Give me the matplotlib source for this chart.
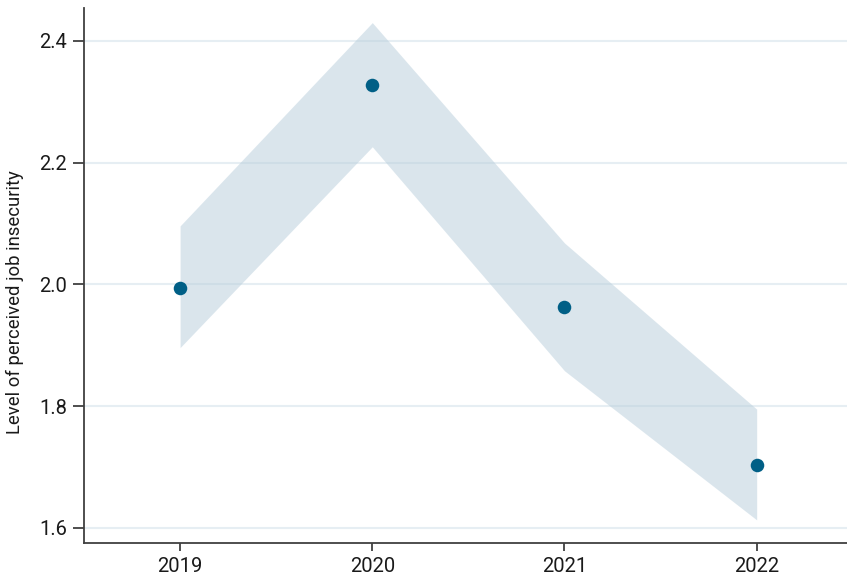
import matplotlib
matplotlib.use("Agg")
import matplotlib.pyplot as plt

years = [2019, 2020, 2021, 2022]
mean_insecurity = [1.994, 2.328, 1.963, 1.703]
ci_low = [1.896, 2.226, 1.858, 1.613]
ci_high = [2.096, 2.430, 2.068, 1.795]

plt.rcParams["font.family"] = ["Roboto", "DejaVu Sans"]

fig = plt.figure(figsize=(8.47, 5.77), dpi=100)
ax = fig.add_axes([84 / 847, 34 / 577, 1 - 84 / 847, (543 - 8) / 577])

# band is semi-transparent so the gridlines show through a little
ax.fill_between(years, ci_low, ci_high, color="#b7cddb", alpha=0.5, lw=0, zorder=2)
ax.scatter(years, mean_insecurity, s=95, color="#005f86", zorder=3, lw=0)

ax.set_xlim(2018.5, 2022.47)
ax.set_ylim(1.575, 2.454)
ax.set_xticks(years)
ax.set_yticks([1.6, 1.8, 2.0, 2.2, 2.4])
ax.set_yticklabels(["1.6", "1.8", "2.0", "2.2", "2.4"])
ax.grid(axis="y", color="#e6eef3", lw=1.5, zorder=1)
ax.set_axisbelow(True)

for s in ("top", "right"):
    ax.spines[s].set_visible(False)
for s in ("left", "bottom"):
    ax.spines[s].set_color("#404040")
    ax.spines[s].set_linewidth(1.3)

ax.tick_params(axis="y", length=8, width=1.3, color="#404040", labelsize=14.5,
               pad=4, labelcolor="#1a1a1a")
ax.tick_params(axis="x", length=6, width=1.3, color="#404040", labelsize=14.5,
               pad=4, labelcolor="#1a1a1a")
ax.set_ylabel("Level of perceived job insecurity", fontsize=13.3, color="#1a1a1a")
ax.yaxis.set_label_coords(-0.079, 0.45)

fig.savefig("out.png", dpi=100)
